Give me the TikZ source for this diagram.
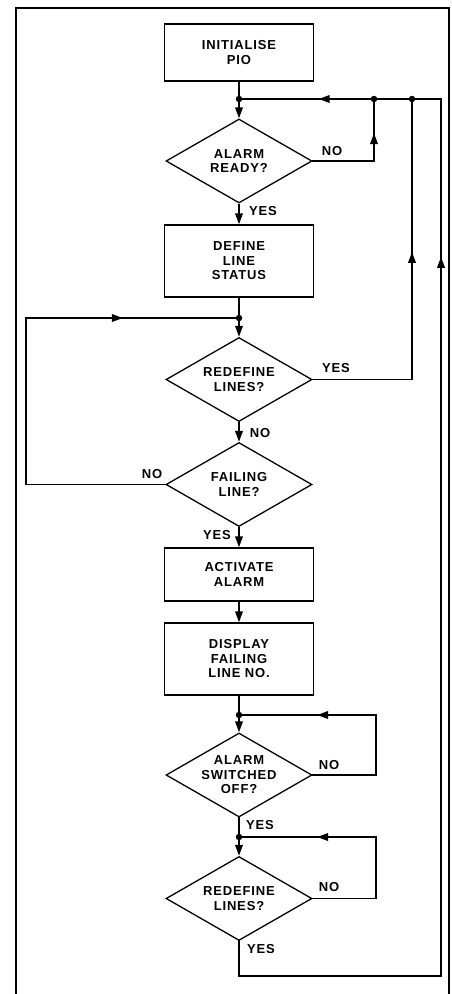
\documentclass[tikz,border=0pt]{standalone}
\usepackage{fontspec}
\setmainfont[LetterSpace=6.5]{Liberation Sans}
\usetikzlibrary{shapes.geometric,arrows.meta,decorations.markings,calc}
\tikzset{
  x=1pt, y=-1pt,
  every node/.style={font=\bfseries\fontsize{13}{14.5}\selectfont, align=center, inner sep=0pt},
  procbox/.style={draw, line width=1.3pt, minimum width=149pt},
  decide/.style={draw, diamond, line width=1.3pt, minimum width=146pt, minimum height=84pt, aspect=1.74},
  flow/.style={line width=1.9pt, line cap=rect, line join=miter},
  flowin/.style={flow, line cap=butt, -{Triangle[length=11pt,width=7.5pt]}},
  amark/.style={postaction={decorate}, decoration={markings, mark=at position #1 with {\arrow{Triangle[length=11pt,width=7.5pt]}}}},
  lbl/.style={anchor=center},
  dot/.style={circle, fill, inner sep=0pt, minimum size=6.5pt}
}
\begin{document}
\begin{tikzpicture}
\useasboundingbox (0,0) rectangle (452,994);
% frame
\draw[line width=1.9pt] (16,994) -- (16,8) -- (449,8) -- (449,994);

% nodes
\node[procbox, minimum height=57pt] (init) at (239,52.5) {INITIALISE\\PIO};
\node[decide] (d1) at (239,161) {ALARM\\READY?};
\node[procbox, minimum height=72pt] (define) at (239,261) {DEFINE\\LINE\\STATUS};
\node[decide] (d2) at (239,379.5) {REDEFINE\\LINES?};
\node[decide] (d3) at (239,484.5) {FAILING\\LINE?};
\node[procbox, minimum height=53pt] (act) at (239,574.5) {ACTIVATE\\ALARM};
\node[procbox, minimum height=72pt] (disp) at (239,659) {DISPLAY\\FAILING\\LINE NO.};
\node[decide] (d4) at (239,775) {ALARM\\SWITCHED\\OFF?};
\node[decide] (d5) at (239,898.5) {REDEFINE\\LINES?};

% junction points
\coordinate (j1) at (239,99);
\coordinate (k1) at (374,99);
\coordinate (k2) at (412,99);
\coordinate (k3) at (441,99);
\coordinate (j2) at (239,318);
\coordinate (j3) at (239,715);
\coordinate (j4) at (239,837);
\coordinate (c1) at (374,161);
\coordinate (c2) at (412,379.5);
\coordinate (l1) at (26,484.5);
\coordinate (l2) at (26,318);
\coordinate (c4) at (376,775);
\coordinate (c4t) at (376,715);
\coordinate (c5) at (376,898.5);
\coordinate (c5t) at (376,837);
\coordinate (b1) at (239,976);
\coordinate (b2) at (441,976);

% connectors
\draw[flow] (init) -- (j1);
\draw[flowin] (j1) -- (d1.north);
\draw[flowin] (d1.south) -- (define.north);
\draw[flow] (define) -- (j2);
\draw[flowin] (j2) -- (d2.north);
\draw[flowin] (d2.south) -- (d3.north);
\draw[flowin] (d3.south) -- (act.north);
\draw[flowin] (act.south) -- (disp.north);
\draw[flow] (disp) -- (j3);
\draw[flowin] (j3) -- (d4.north);
\draw[flow] (d4.south) -- (j4);
\draw[flowin] (j4) -- (d5.north);

% top return line
\draw[flow] (d1.east) -- (c1);
\draw[flow, amark=0.45] (c1) -- (k1);
\draw[flow, amark=0.41] (k1) -- (j1);
\draw[flow] (k3) -- (k2) -- (k1);
\draw[flow] (d2.east) -- (c2);
\draw[flow, amark=0.455] (c2) -- (k2);
% left loop
\draw[flow] (d3.west) -- (l1) -- (l2);
\draw[flow, amark=0.455] (l2) -- (j2);
% small loops
\draw[flow] (d4.east) -- (c4) -- (c4t);
\draw[flow, amark=0.43] (c4t) -- (j3);
\draw[flow] (d5.east) -- (c5) -- (c5t);
\draw[flow, amark=0.43] (c5t) -- (j4);
% bottom return
\draw[flow] (d5.south) -- (b1) -- (b2);
\draw[flow, amark=0.82] (b2) -- (k3);

% dots
\node[dot] at (j1) {};
\node[dot] at (k1) {};
\node[dot] at (k2) {};
\node[dot] at (j2) {};
\node[dot] at (j3) {};
\node[dot] at (j4) {};

% labels
\node[lbl] at (332,151) {NO};
\node[lbl] at (263,211) {YES};
\node[lbl] at (336,368) {YES};
\node[lbl] at (260,433) {NO};
\node[lbl] at (152,474) {NO};
\node[lbl] at (217,535) {YES};
\node[lbl] at (329,765) {NO};
\node[lbl] at (260,825) {YES};
\node[lbl] at (329,887) {NO};
\node[lbl] at (261,949) {YES};
\end{tikzpicture}
\end{document}
